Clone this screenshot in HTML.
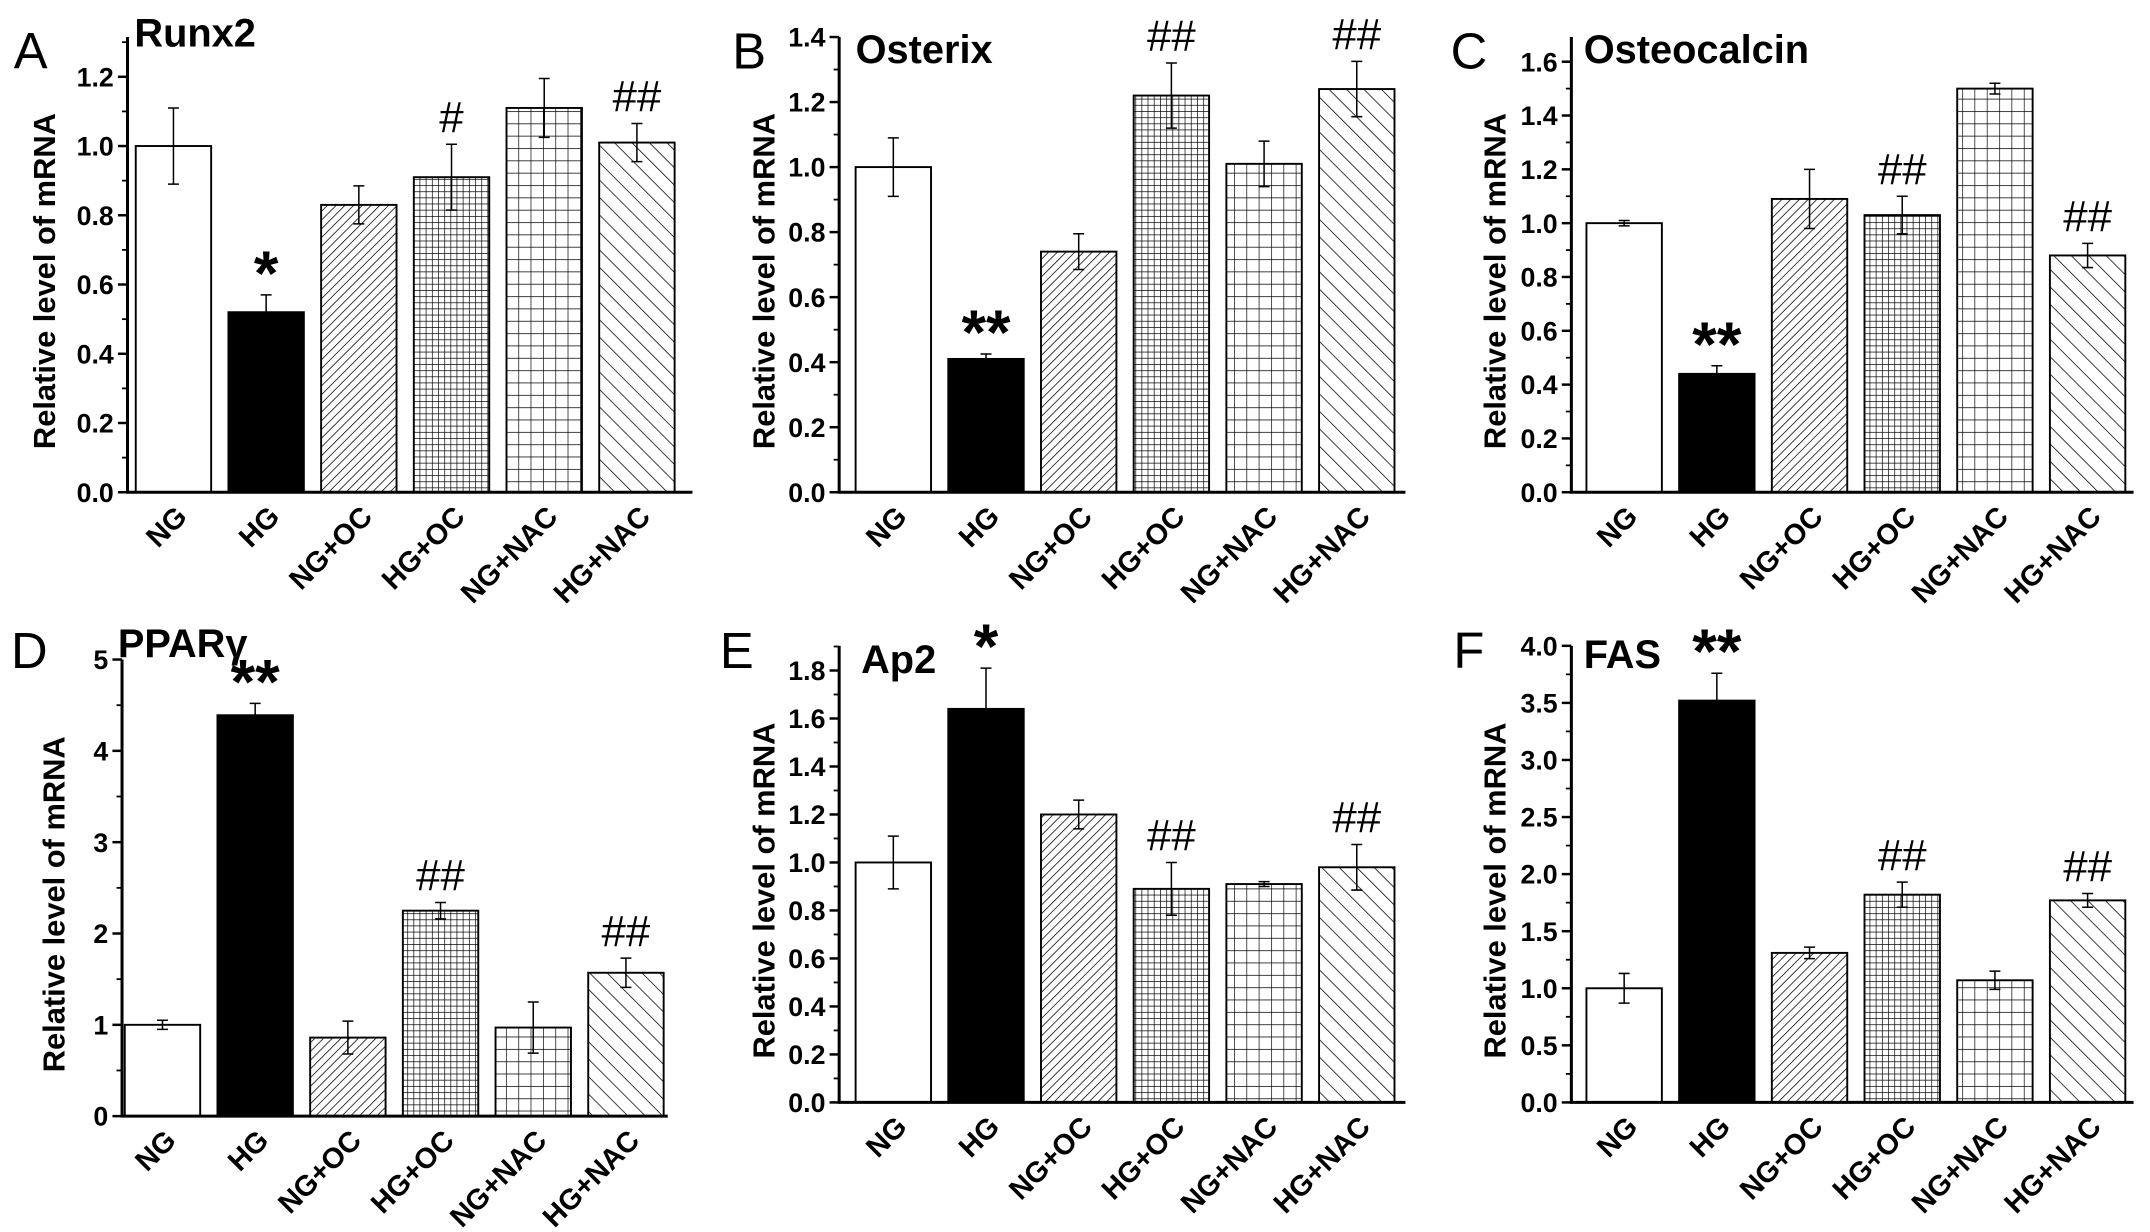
<!DOCTYPE html>
<html><head><meta charset="utf-8"><style>
html,body{margin:0;padding:0;background:#fff;}
svg{display:block;}
text{font-family:"Liberation Sans",Arial,sans-serif;}
</style></head><body>
<svg id="fig" width="2150" height="1232" viewBox="0 0 1568 898.5" preserveAspectRatio="none" xmlns="http://www.w3.org/2000/svg">
<defs>
<pattern id="p-fwd" patternUnits="userSpaceOnUse" width="4.5" height="4.5" patternTransform="rotate(45)"><line x1="0" y1="0" x2="0" y2="4.5" stroke="#000" stroke-width="1.1"/></pattern>
<pattern id="p-fgrid" patternUnits="userSpaceOnUse" width="4.5" height="4.5"><path d="M0 0H4.5M0 0V4.5" stroke="#000" stroke-width="1" fill="none"/></pattern>
<pattern id="p-cgrid" patternUnits="userSpaceOnUse" width="9" height="9"><path d="M0 0H9M0 0V9" stroke="#000" stroke-width="1" fill="none"/></pattern>
<pattern id="p-back" patternUnits="userSpaceOnUse" width="9" height="9" patternTransform="rotate(-45)"><line x1="0" y1="0" x2="0" y2="9" stroke="#000" stroke-width="1.1"/></pattern>
</defs>
</svg>
<script>
const categories = ["NG","HG","NG+OC","HG+OC","NG+NAC","HG+NAC"];
const runx2Values = [1.0,0.52,0.83,0.91,1.11,1.01];
const runx2Errors = [0.11,0.05,0.055,0.095,0.085,0.055];
const osterixValues = [1.0,0.41,0.74,1.22,1.01,1.24];
const osterixErrors = [0.09,0.015,0.055,0.1,0.07,0.085];
const osteocalcinValues = [1.0,0.44,1.09,1.03,1.5,0.88];
const osteocalcinErrors = [0.01,0.03,0.11,0.07,0.02,0.045];
const ppargValues = [1.0,4.39,0.86,2.25,0.97,1.57];
const ppargErrors = [0.05,0.13,0.18,0.09,0.28,0.16];
const ap2Values = [1.0,1.64,1.2,0.89,0.91,0.98];
const ap2Errors = [0.11,0.17,0.06,0.11,0.01,0.095];
const fasValues = [1.0,3.52,1.31,1.82,1.07,1.77];
const fasErrors = [0.13,0.24,0.05,0.11,0.08,0.06];
const runx2Ticks = ["0.0","0.2","0.4","0.6","0.8","1.0","1.2"];
const osterixTicks = ["0.0","0.2","0.4","0.6","0.8","1.0","1.2","1.4"];
const osteocalcinTicks = ["0.0","0.2","0.4","0.6","0.8","1.0","1.2","1.4","1.6"];
const ppargTicks = ["0","1","2","3","4","5"];
const ap2Ticks = ["0.0","0.2","0.4","0.6","0.8","1.0","1.2","1.4","1.6","1.8"];
const fasTicks = ["0.0","0.5","1.0","1.5","2.0","2.5","3.0","3.5","4.0"];
const runx2Marks = ["","*","","#","","##"];
const osterixMarks = ["","**","","##","","##"];
const osteocalcinMarks = ["","**","","##","","##"];
const ppargMarks = ["","**","","##","","##"];
const ap2Marks = ["","*","","##","","##"];
const fasMarks = ["","**","","##","","##"];

const fills = ["#fff","#000","url(#p-fwd)","url(#p-fgrid)","url(#p-cgrid)","url(#p-back)"];
const svg = document.getElementById('fig');
const NS = "http://www.w3.org/2000/svg";
function mk(tag, attrs, parent){const e=document.createElementNS(NS,tag);for(const k in attrs)e.setAttribute(k,attrs[k]);(parent||svg).appendChild(e);return e;}

const panels = [
 {id:"runx2",letter:"A",title:"Runx2",vals:runx2Values,errs:runx2Errors,ticks:runx2Ticks,marks:runx2Marks,ax:93,base:359,top:27,ymax:1.3,tmax:1.2,yTop:56,right:505,x0:99,lx:10,ly:50,tx:98,ty:34,ytx:40},
 {id:"osterix",letter:"B",title:"Osterix",vals:osterixValues,errs:osterixErrors,ticks:osterixTicks,marks:osterixMarks,ax:612,base:359,top:27,ymax:1.4,tmax:1.4,yTop:27,right:1025,x0:624,lx:534,ly:50,tx:624,ty:46,ytx:565},
 {id:"osteocalcin",letter:"C",title:"Osteocalcin",vals:osteocalcinValues,errs:osteocalcinErrors,ticks:osteocalcinTicks,marks:osteocalcinMarks,ax:1146,base:359,top:27,ymax:1.7,tmax:1.6,yTop:45,right:1556,x0:1157,lx:1058,ly:50,tx:1155,ty:46,ytx:1098},
 {id:"pparg",letter:"D",title:"PPARγ",vals:ppargValues,errs:ppargErrors,ticks:ppargTicks,marks:ppargMarks,ax:89,base:814,top:481,ymax:5,tmax:5,yTop:481,right:487,x0:91,lx:8,ly:487,tx:86,ty:479,ytx:47},
 {id:"ap2",letter:"E",title:"Ap2",vals:ap2Values,errs:ap2Errors,ticks:ap2Ticks,marks:ap2Marks,ax:612,base:804,top:471,ymax:1.9,tmax:1.8,yTop:489,right:1025,x0:624,lx:525,ly:487,tx:628,ty:491,ytx:565},
 {id:"fas",letter:"F",title:"FAS",vals:fasValues,errs:fasErrors,ticks:fasTicks,marks:fasMarks,ax:1146,base:804,top:471,ymax:4.0,tmax:4.0,yTop:471,right:1556,x0:1157,lx:1060,ly:487,tx:1155,ty:487,ytx:1098}
];

panels.forEach(p=>{
  const g = mk('g',{});
  
  
  const scale = (p.base - p.yTop)/p.tmax;
  const y = v => p.base - v*scale;
  const barW = 55, step = 67.6;
  const bx = i => p.x0 + i*step;
  p.vals.forEach((v,i)=>{
    const r = mk('rect',{x:bx(i),y:y(v),width:barW,height:p.base-y(v),fill:fills[i],stroke:'#000','stroke-width':1.4},g);
    
    
    const cx = bx(i)+barW/2, e=p.errs[i];
    const eb = mk('path',{d:`M${cx} ${y(v+e)}V${y(v-e)}M${cx-4} ${y(v+e)}H${cx+4}M${cx-4} ${y(v-e)}H${cx+4}`,stroke:'#000','stroke-width':1.1,fill:'none'},g);
    
    
    if(p.marks[i]){
      const star = p.marks[i].includes('*');
      const t = mk('text',{x:cx,y:star ? y(v+e)+0 : y(v+e)-9,'text-anchor':'middle','font-size':star?46:32,'font-weight':star?'bold':'normal','font-family':star?'"Liberation Sans",sans-serif':'"Liberation Serif",serif'},g);
      t.textContent = p.marks[i];
      
      
    }
    const lab = mk('text',{x:0,y:0,'text-anchor':'end','font-size':21,'font-weight':'bold',transform:`translate(${cx+11},${p.base+19}) rotate(-45)`},g);
    lab.textContent = categories[i];
    
    
  });
  const axes = mk('path',{d:`M${p.ax} ${p.top}V${p.base}H${p.right}`,stroke:'#000','stroke-width':2.2,fill:'none'},g);
  
  
  const n = p.ticks.length-1, dv = p.tmax/n;
  p.ticks.forEach((t,k)=>{
    const yy = y(k*dv);
    mk('line',{x1:p.ax-7,x2:p.ax,y1:yy,y2:yy,stroke:'#000','stroke-width':1.8},g);
    if(k<n || p.ymax>p.tmax){const ym=y((k+0.5)*dv); if(ym>=p.top-1) mk('line',{x1:p.ax-4,x2:p.ax,y1:ym,y2:ym,stroke:'#000','stroke-width':1.3},g);}
    const tl = mk('text',{x:p.ax-10,y:yy+7,'text-anchor':'end','font-size':19.5,'font-weight':'bold'},g);
    tl.textContent = t;
    
    
  });
  const yt = mk('text',{x:0,y:0,'text-anchor':'middle','font-size':22.5,'font-weight':'bold',transform:`translate(${p.ytx},${(p.top+p.base)/2+12}) rotate(-90)`},g);
  yt.textContent = 'Relative level of mRNA';
  
  
  const L = mk('text',{x:p.lx,y:p.ly,'font-size':37},g);
  L.textContent = p.letter;
  
  
  const T = mk('text',{x:p.tx,y:p.ty,'font-size':29,'font-weight':'bold'},g);
  T.textContent = p.title;
  
  
});
</script>
</body></html>
